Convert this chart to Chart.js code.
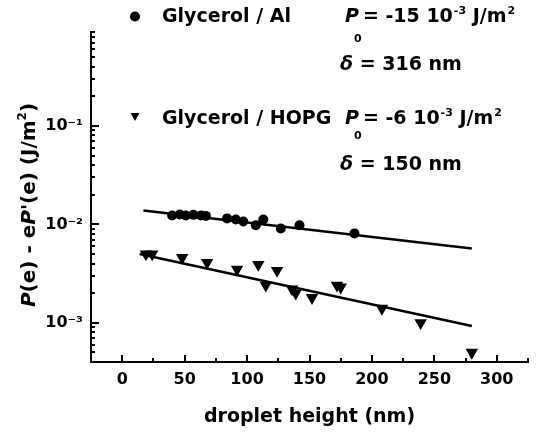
<!DOCTYPE html>
<html><head><meta charset="utf-8">
<style>html,body{margin:0;padding:0;background:#fff;}canvas{display:block;}</style>
<script src="https://cdn.jsdelivr.net/npm/chart.js@4.4.1/dist/chart.umd.min.js"></script>
</head><body>
<canvas id="c" width="540" height="433"></canvas>
<script>
// ---- data ----
const alHeight = [40, 46, 51, 57, 63, 67, 84, 91, 97, 107, 113, 127, 142, 186];
const alValue  = [0.0123, 0.0126, 0.0123, 0.0125, 0.0123, 0.0122, 0.0115, 0.0112, 0.0107, 0.0098, 0.0112, 0.0091, 0.0098, 0.0081];
const hopgHeight = [19, 24, 48, 68, 92, 109, 115, 124, 136, 139, 152, 172, 175, 208, 239, 280];
const hopgValue  = [0.0050, 0.0050, 0.0046, 0.0041, 0.0035, 0.0039, 0.0024, 0.0034, 0.0022, 0.0020, 0.0018, 0.0024, 0.0023, 0.0014, 0.0010, 0.0005];
const alFitHeight = [17, 280];
const alFitValue  = [0.0138, 0.0057];
const hopgFitHeight = [14, 280];
const hopgFitValue  = [0.0050, 0.00093];
const xTickValues = [0, 50, 100, 150, 200, 250, 300];
const yTickValues = [1e-3, 1e-2, 1e-1];
const yTickLabels = ['10\u207B\u00B3', '10\u207B\u00B2', '10\u207B\u00B9'];
const seriesNames = ['Glycerol / Al', 'Glycerol / HOPG'];

const pts = (xs, ys) => xs.map((x, i) => ({x: x, y: ys[i]}));
const FAM = '"DejaVu Sans"';
const F = (size, it) => (it ? 'italic ' : '') + 'bold ' + size + 'px ' + FAM;

function drawRuns(ctx, x, y, runs) {
  let cx = x;
  for (const r of runs) {
    ctx.font = r.font;
    const rx = cx + (r.dx || 0);
    ctx.fillText(r.t, rx, y + (r.dy || 0));
    if (!r.noAdv) cx = rx + ctx.measureText(r.t).width + (r.gap || 0);
  }
  return cx;
}
function runsWidth(ctx, runs) {
  let w = 0;
  for (const r of runs) { ctx.font = r.font; if (!r.noAdv) w += (r.dx || 0) + ctx.measureText(r.t).width + (r.gap || 0); }
  return w;
}

const decor = {
  id: 'decor',
  afterDraw(chart) {
    const ctx = chart.ctx, a = chart.chartArea;
    const xs = chart.scales.x, ys = chart.scales.y;
    ctx.save();
    // inward tick marks
    ctx.strokeStyle = '#000'; ctx.lineWidth = 2;
    xs.ticks.forEach(t => {
      const v = t.value;
      if (v <= xs.min + 1e-9 || v > xs.max + 1e-9) return;
      const px = Math.round(xs.getPixelForValue(v));
      const len = (Math.abs(v % 50) < 1e-9) ? 7 : 4;
      ctx.beginPath(); ctx.moveTo(px, a.bottom); ctx.lineTo(px, a.bottom - len); ctx.stroke();
    });
    ys.ticks.forEach(t => {
      const v = t.value;
      if (v <= ys.min * 1.0001 || v > ys.max * 1.0001) return;
      const e = Math.floor(Math.log10(v) + 1e-9);
      const m = Math.round(v / Math.pow(10, e));
      const len = m === 1 ? 8 : 4;
      const py = Math.round(ys.getPixelForValue(v));
      ctx.beginPath(); ctx.moveTo(a.left, py); ctx.lineTo(a.left + len, py); ctx.stroke();
    });

    ctx.fillStyle = '#000';
    ctx.textBaseline = 'alphabetic';
    ctx.textAlign = 'left';
    // y axis title (rotated)
    const yRuns = [
      {t: 'P', font: F(20, true)},
      {t: '(e) - e', font: F(20)},
      {t: 'P', font: F(20, true)},
      {t: "'(e) (J/m", font: F(20)},
      {t: '2', font: F(12), dy: -9},
      {t: ')', font: F(20)}
    ];
    const yw = runsWidth(ctx, yRuns);
    ctx.save();
    ctx.translate(35, (a.top + a.bottom) / 2 + 8 + yw / 2);
    ctx.rotate(-Math.PI / 2);
    drawRuns(ctx, 0, 0, yRuns);
    ctx.restore();

    // annotations
    ctx.beginPath(); ctx.arc(135, 16.5, 5, 0, Math.PI * 2); ctx.fill();
    ctx.beginPath(); ctx.moveTo(130.5, 113); ctx.lineTo(139.5, 113); ctx.lineTo(135, 121); ctx.closePath(); ctx.fill();

    drawRuns(ctx, 162, 22, [{t: seriesNames[0], font: F(19)}]);
    drawRuns(ctx, 162, 124, [{t: seriesNames[1], font: F(19)}]);

    const p0 = (base, subBase, num) => drawRuns(ctx, 345, base, [
      {t: 'P', font: F(19, true)},
      {t: '0', font: F(11), dx: -5, dy: subBase - base, noAdv: true},
      {t: '= ' + num + ' 10', font: F(19), dx: 4},
      {t: '-3', font: F(11), dy: -8, dx: 1},
      {t: ' J/m', font: F(19)},
      {t: '2', font: F(11), dy: -8, dx: 1}
    ]);
    p0(22, 42, '-15');
    p0(124, 139, '-6');

    drawRuns(ctx, 340, 70, [{t: '\u03B4', font: F(19, true)}, {t: ' = 316 nm', font: F(19)}]);
    drawRuns(ctx, 340, 170, [{t: '\u03B4', font: F(19, true)}, {t: ' = 150 nm', font: F(19)}]);
    ctx.restore();
  }
};

const tickFont = {family: 'DejaVu Sans', size: 16, weight: 'bold'};

new Chart(document.getElementById('c'), {
  type: 'scatter',
  data: {
    datasets: [
      {label: seriesNames[0] + ' fit', data: pts(alFitHeight, alFitValue), showLine: true, borderColor: '#000', borderWidth: 2.5, pointRadius: 0, order: 2},
      {label: seriesNames[1] + ' fit', data: pts(hopgFitHeight, hopgFitValue), showLine: true, borderColor: '#000', borderWidth: 2.5, pointRadius: 0, order: 2},
      {label: seriesNames[0], data: pts(alHeight, alValue), pointStyle: 'circle', pointRadius: 5, backgroundColor: '#000', borderColor: '#000', borderWidth: 0, order: 1},
      {label: seriesNames[1], data: pts(hopgHeight, hopgValue), pointStyle: 'triangle', rotation: 180, pointRadius: 7.2, backgroundColor: '#000', borderColor: '#000', borderWidth: 0, order: 1}
    ]
  },
  options: {
    responsive: false,
    animation: false,
    devicePixelRatio: 1,
    layout: {padding: {left: 0, right: 12, top: 32, bottom: 0}},
    plugins: {legend: {display: false}, tooltip: {enabled: false}},
    scales: {
      x: {
        type: 'linear', min: -25, max: 325,
        afterFit: s => { s.height = 71; },
        grid: {display: false, drawTicks: false},
        border: {display: true, color: '#000', width: 2},
        ticks: {stepSize: 25, autoSkip: false, maxRotation: 0, padding: 8, color: '#000', font: tickFont,
          callback: v => xTickValues.includes(v) ? String(v) : ''},
        title: {display: true, text: 'droplet height (nm)', color: '#000',
          font: {family: 'DejaVu Sans', size: 19, weight: 'bold'}, padding: {top: 0, bottom: 5}}
      },
      y: {
        type: 'logarithmic', min: 4e-4, max: 0.9,
        afterFit: s => { s.width = 91; },
        afterBuildTicks: s => {
          const t = [];
          for (let e = -4; e <= 0; e++) for (let m = 1; m <= 9; m++) {
            const v = m * Math.pow(10, e);
            if (v >= s.min * 0.9999 && v <= s.max * 1.0001) t.push({value: v});
          }
          s.ticks = t;
        },
        grid: {display: false, drawTicks: false},
        border: {display: true, color: '#000', width: 2},
        ticks: {autoSkip: false, padding: 8, color: '#000', font: tickFont,
          callback: v => { const i = yTickValues.findIndex(t => Math.abs(v - t) / t < 1e-6); return i >= 0 ? yTickLabels[i] : ''; }},
        title: {display: false}
      }
    }
  },
  plugins: [decor]
});
</script>
</body></html>
